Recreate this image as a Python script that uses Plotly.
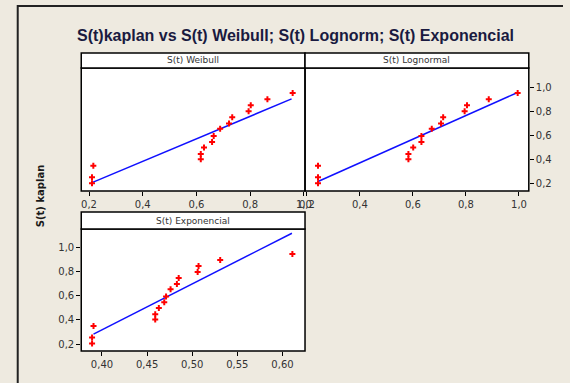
import plotly.graph_objects as go

W, H = 570, 383

# Kaplan-Meier survival (y for all panels)
s_kaplan = [0.95, 0.90, 0.85, 0.80, 0.75, 0.70, 0.655, 0.595, 0.547, 0.50, 0.447, 0.405, 0.35, 0.255, 0.205]
s_weibull = [0.958, 0.864, 0.802, 0.794, 0.733, 0.721, 0.688, 0.664, 0.658, 0.628, 0.616, 0.616, 0.216, 0.211, 0.211]
s_lognormal = [0.995, 0.886, 0.804, 0.795, 0.714, 0.706, 0.671, 0.632, 0.632, 0.601, 0.583, 0.583, 0.242, 0.242, 0.242]
s_exponencial = [0.611, 0.531, 0.507, 0.506, 0.485, 0.483, 0.476, 0.471, 0.469, 0.463, 0.459, 0.459, 0.3906, 0.389, 0.389]

# fitted lines (endpoints)
fit_weibull_x = [0.211, 0.954]
fit_weibull_y = [0.211, 0.902]
fit_lognormal_x = [0.242, 0.995]
fit_lognormal_y = [0.220, 0.955]
fit_exponencial_x = [0.3906, 0.6105]
fit_exponencial_y = [0.283, 1.122]

panel_titles = ["S(t) Weibull", "S(t) Lognormal", "S(t) Exponencial"]
main_title = "S(t)kaplan vs S(t) Weibull; S(t) Lognorm; S(t) Exponencial"
y_title = "S(t) kaplan"

def px(x):
    return x / W

def py(y):
    return 1 - y / H

BG = "#eeeae0"
TICKFONT = dict(family="DejaVu Sans", size=10, color="#333333")

fig = go.Figure()

panels = [
    (s_weibull, fit_weibull_x, fit_weibull_y, "x", "y"),
    (s_lognormal, fit_lognormal_x, fit_lognormal_y, "x2", "y2"),
    (s_exponencial, fit_exponencial_x, fit_exponencial_y, "x3", "y3"),
]
for xs, lx, ly, xa, ya in panels:
    fig.add_trace(go.Scatter(x=lx, y=ly, mode="lines", xaxis=xa, yaxis=ya,
                             line=dict(color="#1010ff", width=1.5), showlegend=False))
    fig.add_trace(go.Scatter(x=xs, y=s_kaplan, mode="markers", xaxis=xa, yaxis=ya,
                             marker=dict(symbol="cross", size=5, color="#ff0000", line=dict(width=0)),
                             showlegend=False))

# pixel geometry of panels
p1 = dict(l=77, r=306, t=68, b=191, st=53)
p2 = dict(l=306, r=535, t=68, b=191, st=53)
p3 = dict(l=77, r=306, t=229, b=351, st=212)

def dom(p):
    return [px(p["l"]), px(p["r"])], [py(p["b"]), py(p["t"])]

yr = [0.142, 1.157]
common_x = dict(showgrid=False, zeroline=False, ticks="outside", ticklen=4, tickcolor="#000",
                tickfont=TICKFONT, showline=False, fixedrange=True)

d1x, d1y = dom(p1)
d2x, d2y = dom(p2)
d3x, d3y = dom(p3)

fig.update_layout(
    width=W, height=H,
    margin=dict(l=0, r=0, t=0, b=0),
    paper_bgcolor=BG, plot_bgcolor="white",
    separators=",.",
    xaxis=dict(domain=d1x, range=[0.171, 1.004], tickvals=[0.2, 0.4, 0.6, 0.8, 1.0],
               tickformat=".1f", anchor="y", **common_x),
    yaxis=dict(domain=d1y, range=yr, showticklabels=False, ticks="", showgrid=False,
               zeroline=False, anchor="x"),
    xaxis2=dict(domain=d2x, range=[0.193, 1.037], tickvals=[0.2, 0.4, 0.6, 0.8, 1.0],
                tickformat=".1f", anchor="y2", **common_x),
    yaxis2=dict(domain=d2y, range=yr, side="right", anchor="x2", tickvals=[0.2, 0.4, 0.6, 0.8, 1.0],
                tickformat=".1f", **common_x),
    xaxis3=dict(domain=d3x, range=[0.377, 0.625], tickvals=[0.40, 0.45, 0.50, 0.55, 0.60],
                tickformat=".2f", anchor="y3", **common_x),
    yaxis3=dict(domain=d3y, range=yr, anchor="x3", tickvals=[0.2, 0.4, 0.6, 0.8, 1.0],
                tickformat=".1f", **common_x),
)

shapes = []
annotations = []
for p, title in zip([p1, p2, p3], panel_titles):
    # plot border
    shapes.append(dict(type="rect", xref="paper", yref="paper",
                       x0=px(p["l"]), x1=px(p["r"]), y0=py(p["b"]), y1=py(p["t"]),
                       line=dict(color="#000000", width=1.5), fillcolor="rgba(0,0,0,0)", layer="above"))
    # strip
    shapes.append(dict(type="rect", xref="paper", yref="paper",
                       x0=px(p["l"]), x1=px(p["r"]), y0=py(p["t"]), y1=py(p["st"]),
                       line=dict(color="#000000", width=1.5), fillcolor="white", layer="above"))
    annotations.append(dict(xref="paper", yref="paper", x=px((p["l"] + p["r"]) / 2),
                            y=py((p["t"] + p["st"]) / 2), text=title, showarrow=False,
                            xanchor="center", yanchor="middle",
                            font=dict(family="DejaVu Sans", size=9, color="#333333")))

# outer frame (left and top)
shapes.append(dict(type="path", xref="paper", yref="paper",
                   path=f"M {px(12)} {py(383)} L {px(12)} {py(6)} L {px(570)} {py(6)}",
                   line=dict(color="#222222", width=2)))

annotations.append(dict(xref="paper", yref="paper", x=px(296), y=py(35), text="<b>" + main_title + "</b>",
                        showarrow=False, xanchor="center", yanchor="middle",
                        font=dict(family="Liberation Sans", size=16, color="#1a1a40")))
annotations.append(dict(xref="paper", yref="paper", x=px(35), y=py(196), text="<b>" + y_title + "</b>",
                        showarrow=False, xanchor="center", yanchor="middle", textangle=-90,
                        font=dict(family="DejaVu Sans", size=10, color="#1a1a1a")))

fig.update_layout(shapes=shapes, annotations=annotations)

fig.write_html("out.html")
